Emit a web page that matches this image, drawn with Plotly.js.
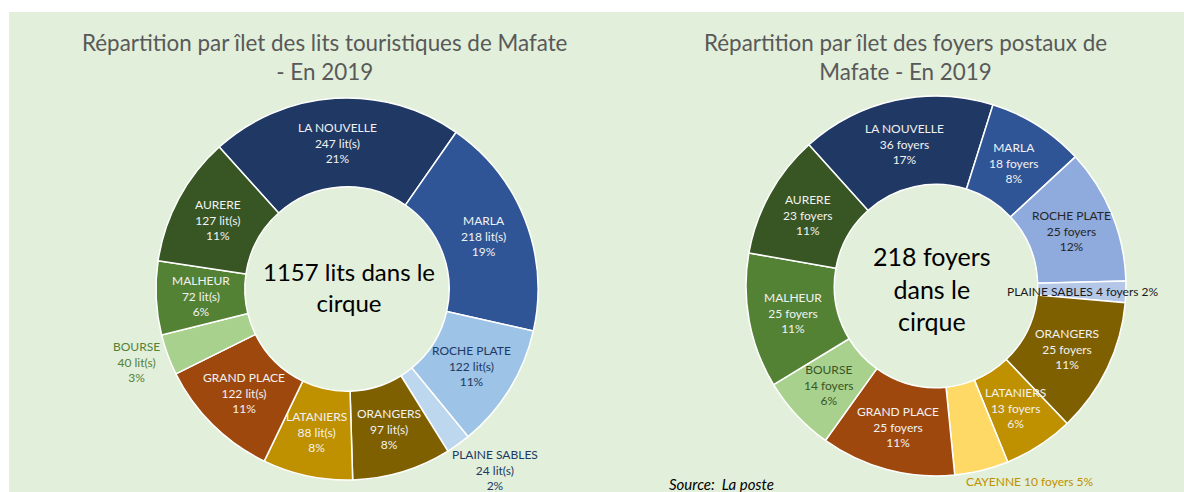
<!DOCTYPE html>
<html><head><meta charset="utf-8">
<script src="https://cdn.plot.ly/plotly-3.0.1.min.js"></script>
<style>html,body{margin:0;padding:0;background:#fff;} #chart{width:1184px;height:492px;}</style>
</head><body><div id="chart"></div>
<script>
// ---- data ----
const litsLabels = ['LA NOUVELLE','MARLA','ROCHE PLATE','PLAINE SABLES','ORANGERS','LATANIERS','GRAND PLACE','BOURSE','MALHEUR','AURERE'];
const litsValues = [247,218,122,24,97,88,122,40,72,127];
const litsPct = ['21%','19%','11%','2%','8%','8%','11%','3%','6%','11%'];
const litsTotal = 1157;

const foyersLabels = ['LA NOUVELLE','MARLA','ROCHE PLATE','PLAINE SABLES','ORANGERS','LATANIERS','CAYENNE','GRAND PLACE','BOURSE','MALHEUR','AURERE'];
const foyersValues = [36,18,25,4,25,13,10,25,14,25,23];
const foyersPct = ['17%','8%','12%','2%','11%','6%','5%','11%','6%','11%','11%'];
const foyersTotal = 218;

const titleLits = 'Répartition par îlet des lits touristiques de Mafate<br>- En 2019';
const titleFoyers = 'Répartition par îlet des foyers postaux de<br>Mafate - En 2019';
const sourceText = 'Source:\u00a0 La poste';

// ---- styles ----
const FONT = 'Lato, "Open Sans", sans-serif';
const LBL = 12;
const HOLE = 0.535, ROT = -42;
const baseColors = {
  'LA NOUVELLE':'#203864','MARLA':'#2F5597','ROCHE PLATE':'#9DC3E6','PLAINE SABLES':'#BDD7EE',
  'ORANGERS':'#7F6000','LATANIERS':'#BF9000','CAYENNE':'#FFD966','GRAND PLACE':'#9E480E',
  'BOURSE':'#A9D18E','MALHEUR':'#548235','AURERE':'#375623'
};
const foyersColorOverride = {'ROCHE PLATE':'#8FAADC','PLAINE SABLES':'#B4C7E7'};
const litsTextColor = {'ROCHE PLATE':'#203864','BOURSE':'#548235','PLAINE SABLES':'#203864'};
const foyersTextColor = {'ROCHE PLATE':'#262626','BOURSE':'#375623','PLAINE SABLES':'#1a1a1a','CAYENNE':'#BF9000'};
const litsOutside = {'BOURSE':[136,362], 'PLAINE SABLES':[495,470]};
const foyersOutside = {'PLAINE SABLES':[1082,291], 'CAYENNE':[1030,481]};
const W = 1184, H = 492;
const px = x => x / W, py = y => 1 - y / H;
const litsBox = {x0:156, x1:538, y0:98, y1:480};
const foyersBox = {x0:746, x1:1126, y0:96, y1:476};

function makeTrace(labels, values, colors, box) {
  return {
    type:'pie', labels: labels, values: values, textinfo:'none',
    sort:false, direction:'clockwise', rotation: ROT, hole: HOLE,
    marker:{colors: colors, line:{color:'#ffffff', width:1.5}},
    domain:{x:[px(box.x0), px(box.x1)], y:[py(box.y1), py(box.y0)]},
    showlegend:false, hoverinfo:'none'
  };
}
const litsTrace = makeTrace(litsLabels, litsValues, litsLabels.map(l => baseColors[l]), litsBox);
const foyersTrace = makeTrace(foyersLabels, foyersValues, foyersLabels.map(l => foyersColorOverride[l] || baseColors[l]), foyersBox);

// slice labels: placed at the middle of the ring, at each slice's mid-angle
function sliceLabels(labels, values, pcts, unit, box, textColor, outside) {
  const cx = (box.x0 + box.x1) / 2, cy = (box.y0 + box.y1) / 2;
  const R = Math.min(box.x1 - box.x0, box.y1 - box.y0) / 2;
  const rMid = R * (1 + HOLE) / 2;
  const total = values.reduce((a, b) => a + b, 0);
  let acc = ROT;
  const out = [];
  labels.forEach((lab, i) => {
    const span = values[i] / total * 360;
    const mid = (acc + span / 2) * Math.PI / 180;
    acc += span;
    const color = textColor[lab] || '#F2F2F2';
    let x, y, text;
    if (outside[lab]) {
      [x, y] = outside[lab];
      const oneLine = unit === 'foyers';
      const sep = oneLine ? ' ' : '<br>';
      text = lab + sep + values[i] + ' ' + unit + sep + pcts[i];
    } else {
      x = cx + rMid * Math.sin(mid);
      y = cy - rMid * Math.cos(mid);
      text = lab + '<br>' + values[i] + ' ' + unit + '<br>' + pcts[i];
    }
    out.push({text: text, x: px(x), y: py(y), xref:'paper', yref:'paper', showarrow:false,
      xanchor:'center', yanchor:'middle', font:{family:FONT, size:LBL, color:color}});
  });
  return out;
}

const annotations = [
  {text: titleLits, x: px(324), y: py(57), xref:'paper', yref:'paper', showarrow:false, xanchor:'center', yanchor:'middle',
   font:{family:FONT, size:22.4, color:'#595959'}},
  {text: titleFoyers, x: px(905), y: py(57), xref:'paper', yref:'paper', showarrow:false, xanchor:'center', yanchor:'middle',
   font:{family:FONT, size:22.4, color:'#595959'}},
  {text: litsTotal + ' lits dans le<br>cirque', x: px(349), y: py(287), xref:'paper', yref:'paper', showarrow:false,
   xanchor:'center', yanchor:'middle', font:{family:FONT, size:24, color:'#000'}},
  {text: foyersTotal + ' foyers<br>dans le<br>cirque', x: px(932), y: py(288), xref:'paper', yref:'paper', showarrow:false,
   xanchor:'center', yanchor:'middle', font:{family:FONT, size:25, color:'#000'}},
  ...sliceLabels(litsLabels, litsValues, litsPct, 'lit(s)', litsBox, litsTextColor, litsOutside),
  ...sliceLabels(foyersLabels, foyersValues, foyersPct, 'foyers', foyersBox, foyersTextColor, foyersOutside),
  {text: '<i>' + sourceText + '</i>', x: px(667), y: py(484), xref:'paper', yref:'paper', showarrow:false,
   xanchor:'left', yanchor:'middle', font:{family:FONT, size:15, color:'#000'}}
];

const layout = {
  width: W, height: H, margin:{l:0, r:0, t:0, b:0},
  paper_bgcolor:'#ffffff',
  shapes:[{type:'rect', xref:'paper', yref:'paper', x0: px(9), x1: 1, y0: 0, y1: py(12),
    fillcolor:'#E2EFDA', line:{width:0}, layer:'below'}],
  annotations: annotations
};
Plotly.newPlot('chart', [litsTrace, foyersTrace], layout, {staticPlot:true, displayModeBar:false});
</script></body></html>
